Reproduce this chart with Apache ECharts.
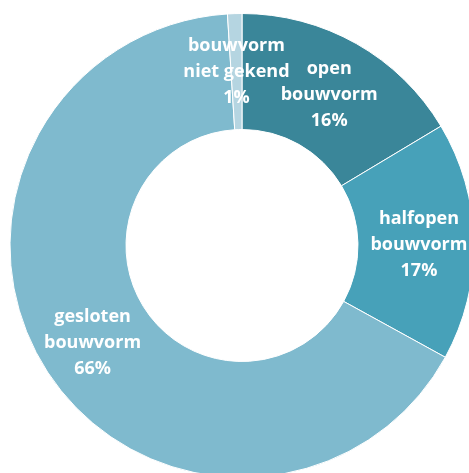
<!DOCTYPE html>
<html>
<head>
<meta charset="utf-8">
<script src="https://cdn.jsdelivr.net/npm/echarts@6/dist/echarts.min.js"></script>
<style>html,body{margin:0;padding:0;background:#fff;}#c{width:469px;height:473px;}</style>
</head>
<body>
<div id="c"></div>
<script>
const categories = ['open\nbouwvorm', 'halfopen\nbouwvorm', 'gesloten\nbouwvorm', 'bouwvorm\nniet gekend'];
const values = [16.4, 16.6, 66.0, 1.0];
const colors = ['#3a8699', '#47a1b9', '#7fbace', '#b5d5e1'];

const chart = echarts.init(document.getElementById('c'), null, {renderer: 'canvas'});
chart.setOption({
  animation: false,
  series: [{
    type: 'pie',
    center: [242, 245.5],
    radius: [116, 232],
    startAngle: 90,
    clockwise: true,
    percentPrecision: 0,
    minShowLabelAngle: 0,
    avoidLabelOverlap: false,
    labelLayout: {hideOverlap: false},
    itemStyle: {borderColor: '#ffffff', borderWidth: 1},
    label: {
      show: true,
      position: 'inside',
      formatter: '{b}\n{d}%',
      color: '#ffffff',
      fontFamily: 'Open Sans',
      fontWeight: 'bold',
      fontSize: 18,
      lineHeight: 26,
      align: 'center',
      overflow: 'none',
      offset: [0, 3]
    },
    labelLine: {show: false},
    emphasis: {disabled: true},
    data: categories.map((n, i) => ({name: n, value: values[i], itemStyle: {color: colors[i]}}))
  }]
});
</script>
</body>
</html>
